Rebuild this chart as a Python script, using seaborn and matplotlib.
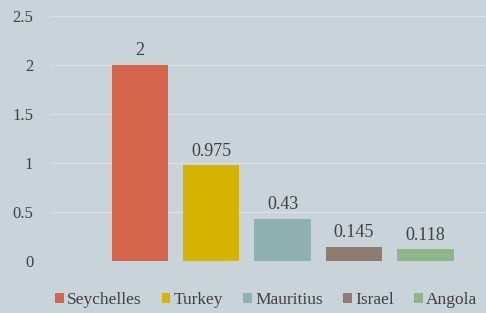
import matplotlib
matplotlib.use("Agg")
import matplotlib.pyplot as plt
import seaborn as sns

countries = ['Seychelles', 'Turkey', 'Mauritius', 'Israel', 'Angola']
values = [2, 0.975, 0.43, 0.145, 0.118]
labels = ['2', '0.975', '0.43', '0.145', '0.118']
colors = ['#d4654a', '#d4b400', '#8fb0b0', '#8f7b70', '#8fb58a']
yticks = [0, 0.5, 1, 1.5, 2, 2.5]
ytick_labels = ['0', '0.5', '1', '1.5', '2', '2.5']

bg = '#c9d3da'
txt = '#404040'

sns.set_style('white')
plt.rcParams['font.family'] = ['Liberation Serif', 'DejaVu Serif']

fig = plt.figure(figsize=(4.86, 3.13), dpi=100, facecolor=bg)
ax = fig.add_axes([50 / 486, 52 / 313, 1 - 50 / 486, 245 / 313])
ax.set_facecolor(bg)

sns.barplot(x=countries, y=values, hue=countries, palette=colors, width=0.79,
            saturation=1, linewidth=0, legend=True, ax=ax, zorder=3)

for i, (v, lab) in enumerate(zip(values, labels)):
    ax.annotate(lab, (i, v), xytext=(0, 4), textcoords='offset points',
                ha='center', va='bottom', fontsize=13, color=txt)

ax.set_ylim(0, 2.5)
ax.set_xlim(-1.26, 4.85)
ax.set_yticks(yticks)
ax.set_yticklabels(ytick_labels, fontsize=12, color=txt)
ax.tick_params(axis='y', length=0, pad=12)
ax.set_xticks([])
ax.set_xlabel('')
ax.set_ylabel('')
ax.grid(axis='y', color='#d9e0e5', linewidth=1, zorder=0)
for s in ax.spines.values():
    s.set_visible(False)

sns.move_legend(ax, 'center left', bbox_to_anchor=(5 / 436, -0.16), ncol=5,
                frameon=False, title=None, fontsize=12.5,
                handlelength=0.5, handleheight=0.5, handletextpad=0.2,
                columnspacing=1.15, labelcolor=txt, borderaxespad=0, borderpad=0)

fig.savefig('out.png', dpi=100, facecolor=bg)
